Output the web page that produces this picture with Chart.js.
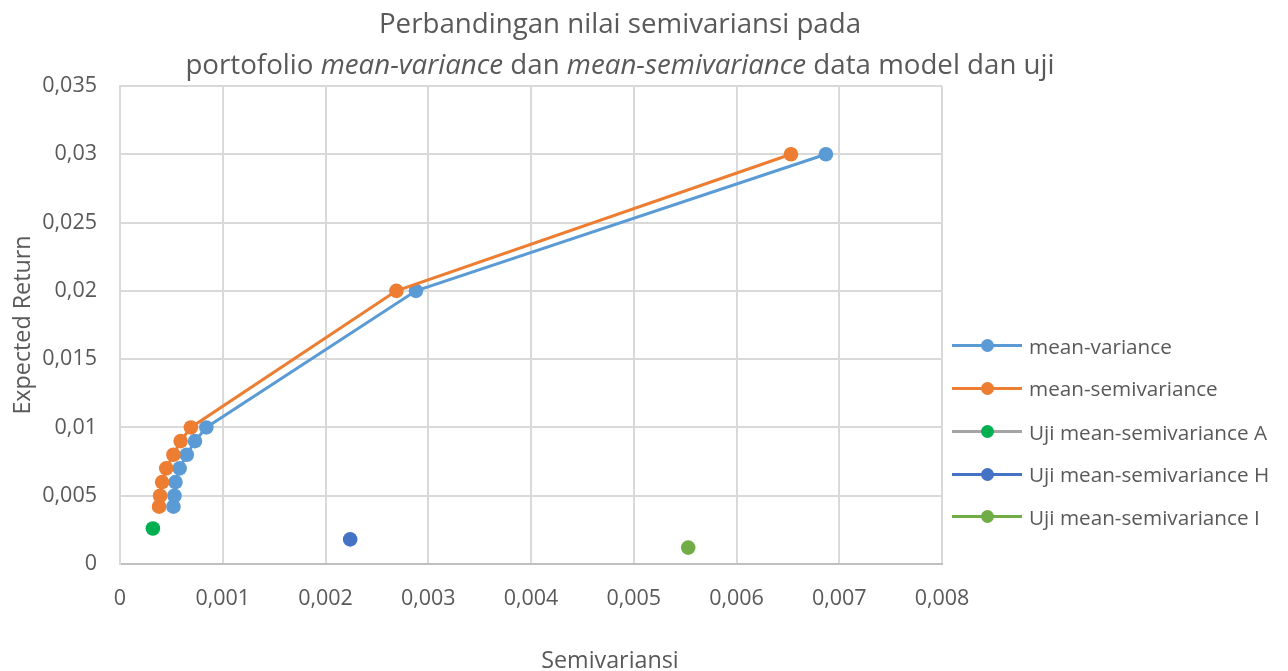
<!DOCTYPE html>
<html>
<head>
<meta charset="utf-8">
<script src="https://cdn.jsdelivr.net/npm/chart.js@4.4.0/dist/chart.umd.min.js"></script>
<style>
  html, body { margin: 0; padding: 0; background: #ffffff; }
  #wrap { position: relative; width: 1288px; height: 671px; font-family: "Open Sans", sans-serif; color: #595959; overflow: hidden; }
  #c { position: absolute; left: 0; top: 0; }
  #title { position: absolute; left: 0; top: 2px; width: 1240px; text-align: center; font-size: 27.7px; line-height: 41px; white-space: nowrap; }
  #xtitle { position: absolute; left: 410px; width: 400px; top: 645px; text-align: center; font-size: 23.3px; line-height: 28px; }
  #ytitle { position: absolute; left: 21px; top: 325px; width: 300px; margin-left: -150px; margin-top: -14px; text-align: center; font-size: 23.3px; line-height: 28px; transform: rotate(-90deg); }
  .lg { position: absolute; left: 952px; height: 26px; width: 336px; }
  .lg .ln { position: absolute; left: 0; top: 11.5px; width: 70px; height: 3px; }
  .lg .mk { position: absolute; left: 28.5px; top: 6.5px; width: 13px; height: 13px; border-radius: 50%; }
  .lg .tx { position: absolute; left: 77px; top: 0; font-size: 20.7px; line-height: 26px; white-space: nowrap; }
</style>
</head>
<body>
<div id="wrap">
  <canvas id="c" width="1288" height="671"></canvas>
  <div id="title">Perbandingan nilai semivariansi pada<br>portofolio <i>mean-variance</i> dan <i>mean-semivariance</i> data model dan uji</div>
  <div id="xtitle">Semivariansi</div>
  <div id="ytitle">Expected Return</div>
  <div id="legend"></div>
</div>
<script>
// ---- data ----
const seriesNames = ["mean-variance", "mean-semivariance", "Uji mean-semivariance A", "Uji mean-semivariance H", "Uji mean-semivariance I"];
const mvSemivar = [0.00052, 0.00053, 0.00054, 0.00058, 0.00065, 0.00073, 0.00084, 0.00288, 0.00687];
const mvReturn  = [0.0042, 0.005, 0.006, 0.007, 0.008, 0.009, 0.01, 0.02, 0.03];
const msSemivar = [0.00038, 0.00039, 0.00041, 0.00045, 0.00052, 0.00059, 0.00069, 0.00269, 0.00653];
const msReturn  = [0.0042, 0.005, 0.006, 0.007, 0.008, 0.009, 0.01, 0.02, 0.03];
const ujiASemivar = [0.00032];
const ujiAReturn  = [0.0026];
const ujiHSemivar = [0.00224];
const ujiHReturn  = [0.0018];
const ujiISemivar = [0.00553];
const ujiIReturn  = [0.0012];
const xTicks = [0, 0.001, 0.002, 0.003, 0.004, 0.005, 0.006, 0.007, 0.008];
const yTicks = [0, 0.005, 0.01, 0.015, 0.02, 0.025, 0.03, 0.035];

// ---- styles ----
const lineColors   = ["#5B9BD5", "#ED7D31", "#A5A5A5", "#4472C4", "#70AD47"];
const markerColors = ["#5B9BD5", "#ED7D31", "#00B050", "#4472C4", "#70AD47"];

const toPts = (xs, ys) => xs.map((x, i) => ({ x: x, y: ys[i] }));
const seriesData = [
  toPts(mvSemivar, mvReturn),
  toPts(msSemivar, msReturn),
  toPts(ujiASemivar, ujiAReturn),
  toPts(ujiHSemivar, ujiHReturn),
  toPts(ujiISemivar, ujiIReturn)
];

const fmt = v => Number(Number(v).toFixed(4)).toString().replace('.', ',');

const datasets = seriesData.map((d, i) => ({
  label: seriesNames[i],
  data: d,
  showLine: true,
  borderColor: lineColors[i],
  backgroundColor: markerColors[i],
  pointBackgroundColor: markerColors[i],
  pointBorderColor: markerColors[i],
  pointBorderWidth: 0,
  pointRadius: 7.3,
  pointHoverRadius: 7.3,
  borderWidth: 3,
  tension: 0,
  order: 10 - i
}));

const tickFont = { family: "Open Sans", size: 21.5 };

new Chart(document.getElementById('c'), {
  type: 'scatter',
  data: { datasets: datasets },
  options: {
    responsive: false,
    animation: false,
    events: [],
    layout: { padding: { left: 0, top: 86, right: 346, bottom: 0 } },
    plugins: { legend: { display: false }, title: { display: false }, tooltip: { enabled: false } },
    scales: {
      x: {
        type: 'linear',
        min: xTicks[0],
        max: xTicks[xTicks.length - 1],
        afterBuildTicks: s => { s.ticks = xTicks.map(v => ({ value: v })); },
        afterFit: s => { s.height = 107; },
        ticks: { font: tickFont, color: '#595959', padding: 22, maxRotation: 0, callback: v => fmt(v) },
        grid: { color: '#D9D9D9', lineWidth: 2, drawTicks: false },
        border: { color: '#BFBFBF', width: 2 },
        title: { display: false }
      },
      y: {
        type: 'linear',
        min: yTicks[0],
        max: yTicks[yTicks.length - 1],
        afterBuildTicks: s => { s.ticks = yTicks.map(v => ({ value: v })); },
        afterFit: s => { s.width = 120; },
        ticks: { font: tickFont, color: '#595959', padding: 23, callback: v => fmt(v) },
        grid: { color: '#D9D9D9', lineWidth: 2, drawTicks: false },
        border: { color: '#D9D9D9', width: 2 },
        title: { display: false }
      }
    }
  }
});

// ---- HTML legend (line + marker sample) ----
const legendTops = [345.7, 388.3, 431.7, 474, 516.7];
const lg = document.getElementById('legend');
seriesNames.forEach((name, i) => {
  const item = document.createElement('div');
  item.className = 'lg';
  item.style.top = (legendTops[i] - 13) + 'px';
  item.innerHTML = '<div class="ln" style="background:' + lineColors[i] + '"></div>' +
                   '<div class="mk" style="background:' + markerColors[i] + '"></div>' +
                   '<div class="tx">' + name + '</div>';
  lg.appendChild(item);
});
</script>
</body>
</html>
